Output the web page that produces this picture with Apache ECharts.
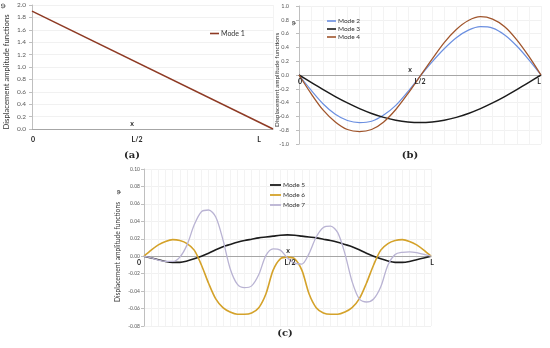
<!DOCTYPE html>
<html><head><meta charset="utf-8">
<script src="https://cdn.jsdelivr.net/npm/echarts@6/dist/echarts.min.js"></script>
<style>html,body{margin:0;padding:0;background:#fff}#c{width:550px;height:348px}</style>
</head><body><div id="c"></div><script>
// Panel (a)
const xA = ['0', '1'];
const mode1 = [1.9, 0.0];
// Panel (b) positions (fraction of L)
const xB = ['0','0.05','0.1','0.15','0.2','0.25','0.3','0.35','0.4','0.45','0.5','0.55','0.6','0.65','0.7','0.75','0.8','0.85','0.9','0.95','1'];
const mode2 = [0,-0.22,-0.42,-0.57,-0.66,-0.69,-0.67,-0.58,-0.44,-0.24,-0.02,0.19,0.38,0.54,0.65,0.70,0.68,0.58,0.42,0.22,0];
const mode3 = [0,-0.108,-0.213,-0.313,-0.405,-0.487,-0.557,-0.614,-0.655,-0.68,-0.689,-0.68,-0.655,-0.614,-0.557,-0.487,-0.405,-0.313,-0.213,-0.108,0];
const mode4 = [0,-0.27,-0.51,-0.68,-0.79,-0.82,-0.79,-0.68,-0.50,-0.27,-0.02,0.23,0.47,0.66,0.79,0.845,0.81,0.70,0.51,0.27,0];
// Panel (c) positions (fraction of L)
const xC = ['0','0.025','0.05','0.075','0.1','0.125','0.15','0.175','0.2','0.225','0.25','0.275','0.3','0.325','0.35','0.375','0.4','0.425','0.45','0.475','0.5',
            '0.525','0.55','0.575','0.6','0.625','0.65','0.675','0.7','0.725','0.75','0.775','0.8','0.825','0.85','0.875','0.9','0.925','0.95','0.975','1'];
const mode5 = [0,-0.002,-0.004,-0.006,-0.007,-0.007,-0.0055,-0.003,0.0,0.0035,0.0075,0.011,0.0135,0.016,0.018,0.0195,0.021,0.022,0.023,0.024,0.0245,
               0.024,0.023,0.022,0.021,0.0195,0.018,0.016,0.0135,0.011,0.0075,0.0035,0.0,-0.003,-0.0055,-0.007,-0.007,-0.006,-0.004,-0.002,0];
const mode6 = [0,0.007,0.013,0.017,0.019,0.018,0.0145,0.007,-0.010,-0.031,-0.049,-0.059,-0.064,-0.0665,-0.0665,-0.065,-0.059,-0.043,-0.016,-0.003,-0.001,
               -0.003,-0.016,-0.043,-0.059,-0.065,-0.0665,-0.0665,-0.064,-0.059,-0.049,-0.031,-0.010,0.007,0.0145,0.018,0.019,0.017,0.013,0.007,0];
const mode7 = [0,-0.002,-0.0045,-0.006,-0.006,-0.001,0.013,0.036,0.051,0.053,0.045,0.019,-0.014,-0.032,-0.036,-0.034,-0.021,0.001,0.0085,0.007,-0.002,
               -0.008,-0.009,0.003,0.022,0.033,0.0345,0.027,0.003,-0.029,-0.049,-0.0525,-0.049,-0.035,-0.010,0.002,0.0045,0.005,0.004,0.002,0];
const xTickLabels = ['0', 'L/2', 'L'];

const FONT = 'Lato';
const chart = echarts.init(document.getElementById('c'), null, {renderer:'canvas'});

function yAx(gi, min, max, interval, dec, fs, margin) {
  return {
    type:'value', gridIndex:gi, min, max, interval,
    axisLine:{show:true, lineStyle:{color:'#bfbfbf', width:1}},
    axisTick:{show:true, length:3, lineStyle:{color:'#bfbfbf'}},
    axisLabel:{fontSize:fs, color:'#595959', fontFamily:FONT, margin, formatter:v => v.toFixed(dec)},
    splitLine:{show:true, lineStyle:{color:'#f1f1f1', width:1}}
  };
}
function xAx(gi, data) {
  return {
    type:'category', gridIndex:gi, data, boundaryGap:false,
    axisLine:{show:true, onZero:true, lineStyle:{color:'#a6a6a6', width:1}},
    axisTick:{show:false},
    axisLabel:{show:false},
    splitLine:{show:true, interval:0, lineStyle:{color:'#f3f3f3', width:1}}
  };
}
function ln(name, xi, yi, data, color, width) {
  return {name, type:'line', xAxisIndex:xi, yAxisIndex:yi, data, color, symbol:'none', smooth:0.3,
    lineStyle:{color, width}, emphasis:{disabled:true}, animation:false};
}
function txt(x, y, text, size, opts) {
  opts = opts || {};
  return {type:'text', x, y, rotation:opts.rot || 0, z:100,
    style:{text, fill:opts.color || '#262626', font:(opts.weight || 'normal') + ' ' + size + 'px ' + (opts.family || FONT),
      align:'center', verticalAlign:'middle', textAlign:'center', textVerticalAlign:'middle'}};
}
const R = Math.PI / 2;
const B = {weight:'bold'};

chart.setOption({
  animation:false,
  backgroundColor:'#ffffff',
  grid:[
    {left:32, top:5, width:241, height:124},
    {left:299, top:6, width:242, height:138},
    {left:144, top:169, width:287, height:157}
  ],
  xAxis:[ xAx(0, xA), xAx(1, xB), xAx(2, xC) ],
  yAxis:[ yAx(0, 0, 2, 0.2, 1, 6.5, 6), yAx(1, -1, 1, 0.2, 1, 5.5, 10), yAx(2, -0.08, 0.10, 0.02, 2, 5, 4) ],
  legend:[
    {data:['Mode 1'], left:205, top:25, icon:'rect', itemWidth:9, itemHeight:1.6, itemGap:0,
      textStyle:{fontSize:7, color:'#333', fontFamily:FONT, padding:[0,0,0,-3]}},
    {data:['Mode 2','Mode 3','Mode 4'], orient:'vertical', left:322, top:12, icon:'rect', itemWidth:9, itemHeight:1.6, itemGap:0,
      textStyle:{fontSize:6.5, color:'#333', fontFamily:FONT, lineHeight:8, padding:[0,0,0,-3]}},
    {data:['Mode 5','Mode 6','Mode 7'], orient:'vertical', left:265, top:175, icon:'rect', itemWidth:11, itemHeight:1.8, itemGap:0,
      textStyle:{fontSize:6.5, color:'#333', fontFamily:FONT, lineHeight:10, padding:[0,0,0,-3]}}
  ],
  series:[
    ln('Mode 1', 0, 0, mode1, '#8e3a24', 1.5),
    ln('Mode 2', 1, 1, mode2, '#6b8fe0', 1.2),
    ln('Mode 3', 1, 1, mode3, '#1c1c1c', 1.5),
    ln('Mode 4', 1, 1, mode4, '#a0552c', 1.3),
    ln('Mode 5', 2, 2, mode5, '#1c1c1c', 1.6),
    ln('Mode 6', 2, 2, mode6, '#d4a22a', 1.6),
    ln('Mode 7', 2, 2, mode7, '#b9b3d3', 1.3)
  ],
  graphic:[
    txt(33, 140, xTickLabels[0], 7, B), txt(137, 140, xTickLabels[1], 7, B), txt(259, 140, xTickLabels[2], 7, B),
    txt(300, 82, xTickLabels[0], 7, B), txt(420, 82, xTickLabels[1], 7, B), txt(539, 82, xTickLabels[2], 7, B),
    txt(139, 263, xTickLabels[0], 7, B), txt(290, 263, xTickLabels[1], 7, B), txt(432, 263, xTickLabels[2], 7, B),
    txt(132, 124, 'x', 7, B),
    txt(410, 70, 'x', 7, B),
    txt(288, 251, 'x', 7, B),
    txt(132, 155, '(a)', 10, {weight:'bold', family:'DejaVu Serif'}),
    txt(410, 155, '(b)', 10, {weight:'bold', family:'DejaVu Serif'}),
    txt(285, 333, '(c)', 10, {weight:'bold', family:'DejaVu Serif'}),
    txt(7, 72, 'Displacement amplitude functions', 7.7, {rot:R, color:'#333'}),
    txt(277, 80, 'Displacement amplitude functions', 6.3, {rot:R, color:'#333'}),
    txt(118, 252, 'Displacement amplitude functions', 6.7, {rot:R, color:'#333'}),
    txt(3, 6, 'φ', 7, {rot:R, color:'#333'}),
    txt(293, 23, 'φ', 6.5, {rot:R, color:'#333'}),
    txt(118, 192, 'φ', 6.5, {rot:R, color:'#333'})
  ]
});
</script></body></html>
